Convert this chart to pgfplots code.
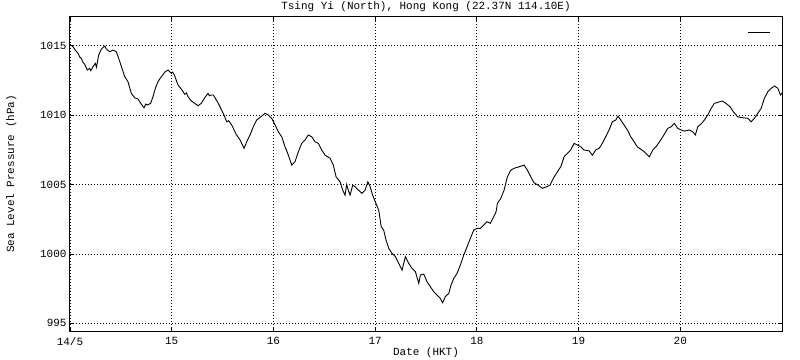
\documentclass[border=0pt]{standalone}
\usepackage{fontspec}
\setmainfont{Liberation Mono}
\setmonofont{Liberation Mono}
\usepackage{pgfplots}
\pgfplotsset{compat=1.18}
\pgfplotstableread{
d p
14.000 1015.10
14.007 1015.05
14.029 1014.93
14.050 1014.70
14.079 1014.45
14.095 1014.20
14.111 1014.09
14.128 1013.80
14.145 1013.66
14.170 1013.25
14.194 1013.37
14.205 1013.20
14.226 1013.49
14.249 1013.73
14.260 1013.45
14.282 1014.33
14.308 1014.76
14.341 1014.98
14.355 1014.80
14.367 1014.69
14.390 1014.57
14.423 1014.69
14.455 1014.57
14.479 1014.09
14.511 1013.37
14.538 1012.77
14.570 1012.41
14.590 1011.90
14.603 1011.57
14.636 1011.25
14.669 1011.16
14.695 1010.85
14.728 1010.53
14.745 1010.80
14.760 1010.73
14.793 1010.85
14.816 1011.33
14.839 1011.93
14.865 1012.41
14.898 1012.77
14.937 1013.13
14.964 1013.25
14.996 1013.01
15.010 1013.10
15.029 1012.84
15.062 1012.17
15.094 1011.88
15.128 1011.50
15.145 1011.60
15.160 1011.33
15.193 1011.02
15.226 1010.85
15.259 1010.68
15.291 1010.85
15.324 1011.25
15.357 1011.57
15.370 1011.40
15.389 1011.45
15.409 1011.45
15.458 1010.85
15.507 1010.13
15.541 1009.52
15.560 1009.60
15.590 1009.29
15.632 1008.64
15.672 1008.21
15.711 1007.61
15.737 1008.08
15.770 1008.57
15.802 1009.16
15.836 1009.65
15.885 1009.93
15.917 1010.13
15.950 1010.01
15.983 1009.77
16.016 1009.29
16.048 1008.80
16.082 1008.44
16.114 1007.72
16.147 1007.12
16.180 1006.40
16.212 1006.64
16.245 1007.36
16.278 1007.97
16.311 1008.21
16.343 1008.57
16.377 1008.44
16.409 1008.08
16.442 1007.97
16.475 1007.49
16.507 1007.12
16.557 1006.89
16.589 1006.40
16.616 1005.56
16.655 1005.20
16.681 1004.60
16.704 1004.24
16.720 1005.00
16.736 1004.60
16.753 1004.24
16.780 1004.96
16.802 1004.84
16.836 1004.60
16.869 1004.37
16.901 1004.60
16.928 1005.20
16.951 1004.84
16.975 1004.24
17.008 1003.64
17.035 1003.16
17.060 1001.96
17.084 1001.72
17.107 1001.00
17.134 1000.40
17.166 1000.04
17.199 999.80
17.232 999.32
17.265 998.84
17.297 999.80
17.331 999.32
17.363 998.96
17.396 998.72
17.429 997.88
17.445 998.48
17.478 998.55
17.510 998.00
17.543 997.64
17.576 997.28
17.609 997.04
17.641 996.80
17.664 996.48
17.690 996.92
17.724 997.16
17.746 997.76
17.773 998.24
17.805 998.60
17.838 999.20
17.871 999.92
17.904 1000.52
17.936 1001.12
17.970 1001.72
18.002 1001.84
18.035 1001.84
18.068 1002.08
18.100 1002.32
18.133 1002.20
18.166 1002.68
18.189 1003.04
18.202 1003.64
18.235 1004.00
18.268 1004.60
18.300 1005.56
18.334 1006.04
18.366 1006.17
18.415 1006.28
18.464 1006.40
18.497 1006.04
18.530 1005.56
18.562 1005.13
18.602 1004.96
18.644 1004.73
18.687 1004.84
18.720 1004.96
18.752 1005.45
18.792 1005.92
18.825 1006.28
18.858 1007.00
18.890 1007.25
18.923 1007.49
18.956 1007.97
18.988 1007.85
19.022 1007.72
19.054 1007.49
19.103 1007.43
19.136 1007.12
19.169 1007.49
19.202 1007.61
19.234 1007.97
19.267 1008.44
19.300 1008.93
19.332 1009.52
19.366 1009.65
19.388 1009.93
19.415 1009.65
19.447 1009.29
19.480 1008.93
19.513 1008.44
19.546 1008.08
19.578 1007.72
19.598 1007.61
19.647 1007.36
19.696 1007.00
19.730 1007.49
19.762 1007.72
19.795 1008.08
19.828 1008.44
19.877 1009.05
19.910 1009.16
19.942 1009.41
19.975 1009.05
20.008 1008.93
20.040 1008.85
20.089 1008.93
20.123 1008.80
20.148 1008.57
20.172 1009.16
20.204 1009.36
20.237 1009.65
20.270 1010.01
20.303 1010.49
20.335 1010.85
20.369 1010.92
20.411 1011.02
20.450 1010.85
20.490 1010.60
20.522 1010.24
20.565 1009.88
20.614 1009.81
20.664 1009.77
20.696 1009.52
20.729 1009.77
20.762 1010.13
20.795 1010.49
20.827 1011.21
20.861 1011.69
20.893 1011.93
20.926 1012.10
20.959 1011.93
20.985 1011.45
21.000 1011.60
}\pres
\begin{document}
\begin{tikzpicture}
\begin{axis}[
  at={(0,0)}, anchor=south west,
  scale only axis,
  width=712bp, height=314bp,
  xmin=14, xmax=21, ymin=994.45, ymax=1017.07,
  xtick={14,15,16,17,18,19,20},
  xticklabels={14/5,15,16,17,18,19,20},
  ytick={995,1000,1005,1010,1015},
  /pgf/number format/assume math mode=true,
  /pgf/number format/set thousands separator={},
  ticklabel style={font=\fontsize{11}{13}\selectfont},
  xticklabel style={yshift=-3bp},
  label style={font=\fontsize{11}{13}\selectfont},
  title style={font=\fontsize{11}{13}\selectfont, yshift=-4.5bp},
  title={Tsing Yi (North), Hong Kong (22.37N 114.10E)},
  xlabel={Date (HKT)},
  ylabel={Sea Level Pressure (hPa)},
  xlabel style={yshift=5bp},
  ylabel style={yshift=17bp},
  tick align=inside,
  major tick length=4bp,
  tick style={black, line width=0.8bp},
  axis line style={line width=1bp},
  grid=major,
  major grid style={black, line width=0.8bp, dash pattern=on 0.9bp off 2.1bp},
  legend style={at={(0.971,0.952)}, anchor=center, draw=none, fill=none, inner sep=0pt, font=\fontsize{1}{1}\selectfont},
  legend image code/.code={\draw[black, line width=0.9bp] (-0.05bp,0bp) -- (22bp,0bp);},
]
\addplot[black, line width=0.9bp] table[x=d, y=p] {\pres};
\addlegendentry{}
\end{axis}
\pgfresetboundingbox
\path[use as bounding box] (-70bp,-29bp) rectangle (730bp,331bp);
\end{tikzpicture}
\end{document}
